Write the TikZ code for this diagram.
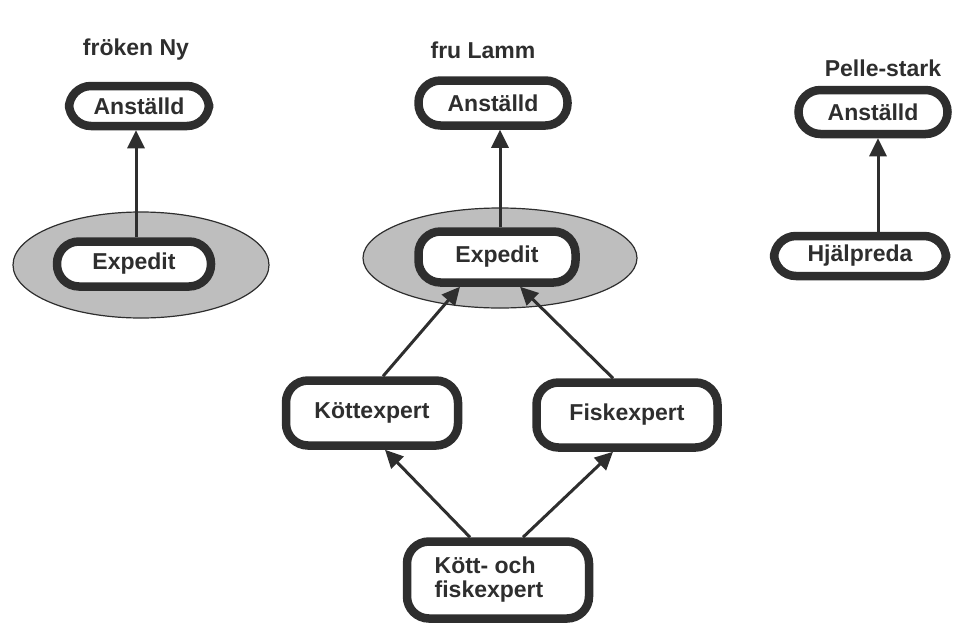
\documentclass[tikz,border=0pt]{standalone}
\usepackage{fontspec}
\setmainfont{Liberation Sans}
\usetikzlibrary{arrows.meta}
\definecolor{ink}{HTML}{2E2E2E}
\definecolor{shade}{HTML}{BEBEBE}
\begin{document}
\begin{tikzpicture}[x=1pt,y=-1pt,
  every node/.style={font=\bfseries\fontsize{23}{28}\selectfont, text=ink},
  role/.style={draw=ink, line width=8.5pt, fill=white, rounded corners=22pt,
    inner sep=0pt, align=center},
  title/.style={inner sep=0pt},
  group/.style={draw=ink, line width=1.2pt, fill=shade},
  isa/.style={draw=ink, line width=3pt, -{Triangle[length=18pt,width=17pt]}}]
\useasboundingbox (0,0) rectangle (953,624);

% column headings
\node[title] (t1) at (136,50) {fröken Ny};
\node[title] (t2) at (483,50) {fru Lamm};
\node[title] (t3) at (883,68) {Pelle-stark};

% shaded groupings
\draw[group] (141,265) ellipse [x radius=128, y radius=53];
\draw[group] (500,258) ellipse [x radius=137, y radius=50];

% fröken Ny
\node[role, minimum width=140pt, minimum height=40pt] (a1) at (139,106) {Anställd};
\node[role, minimum width=154pt, minimum height=45pt] (e1) at (134,264) {Expedit};

% fru Lamm
\node[role, minimum width=149pt, minimum height=45pt] (a2) at (493,103) {Anställd};
\node[role, minimum width=157pt, minimum height=51pt] (e2) at (497,257) {Expedit};
\node[role, minimum width=172pt, minimum height=65pt] (ko) at (372,413) {Köttexpert};
\node[role, minimum width=181pt, minimum height=65pt] (fi) at (627,415) {Fiskexpert};
\node[role, minimum width=182pt, minimum height=77pt, align=left] (kf) at (498,580)
  {Kött- och\hspace*{18pt}\\[-4pt]fiskexpert\hspace*{18pt}};

% Pelle-stark
\node[role, minimum width=149pt, minimum height=44pt] (a3) at (873,112) {Anställd};
\node[role, minimum width=172pt, minimum height=40pt] (h3) at (860,256) {Hjälpreda};

% is-a links
\draw[isa] ([xshift=2pt]e1.north) -- ([xshift=-3pt]a1.south);
\draw[isa] ([xshift=3pt]e2.north) -- ([xshift=7pt]a2.south);
\draw[isa] ([xshift=11pt]ko.north) -- ([xshift=-37pt]e2.south);
\draw[isa] ([xshift=-14pt]fi.north) -- ([xshift=23pt]e2.south);
\draw[isa] ([xshift=-28pt]kf.north) -- ([xshift=13pt]ko.south);
\draw[isa] ([xshift=25pt]kf.north) -- ([xshift=-14pt]fi.south);
\draw[isa] ([xshift=18pt]h3.north) -- ([xshift=5pt]a3.south);
\end{tikzpicture}
\end{document}
